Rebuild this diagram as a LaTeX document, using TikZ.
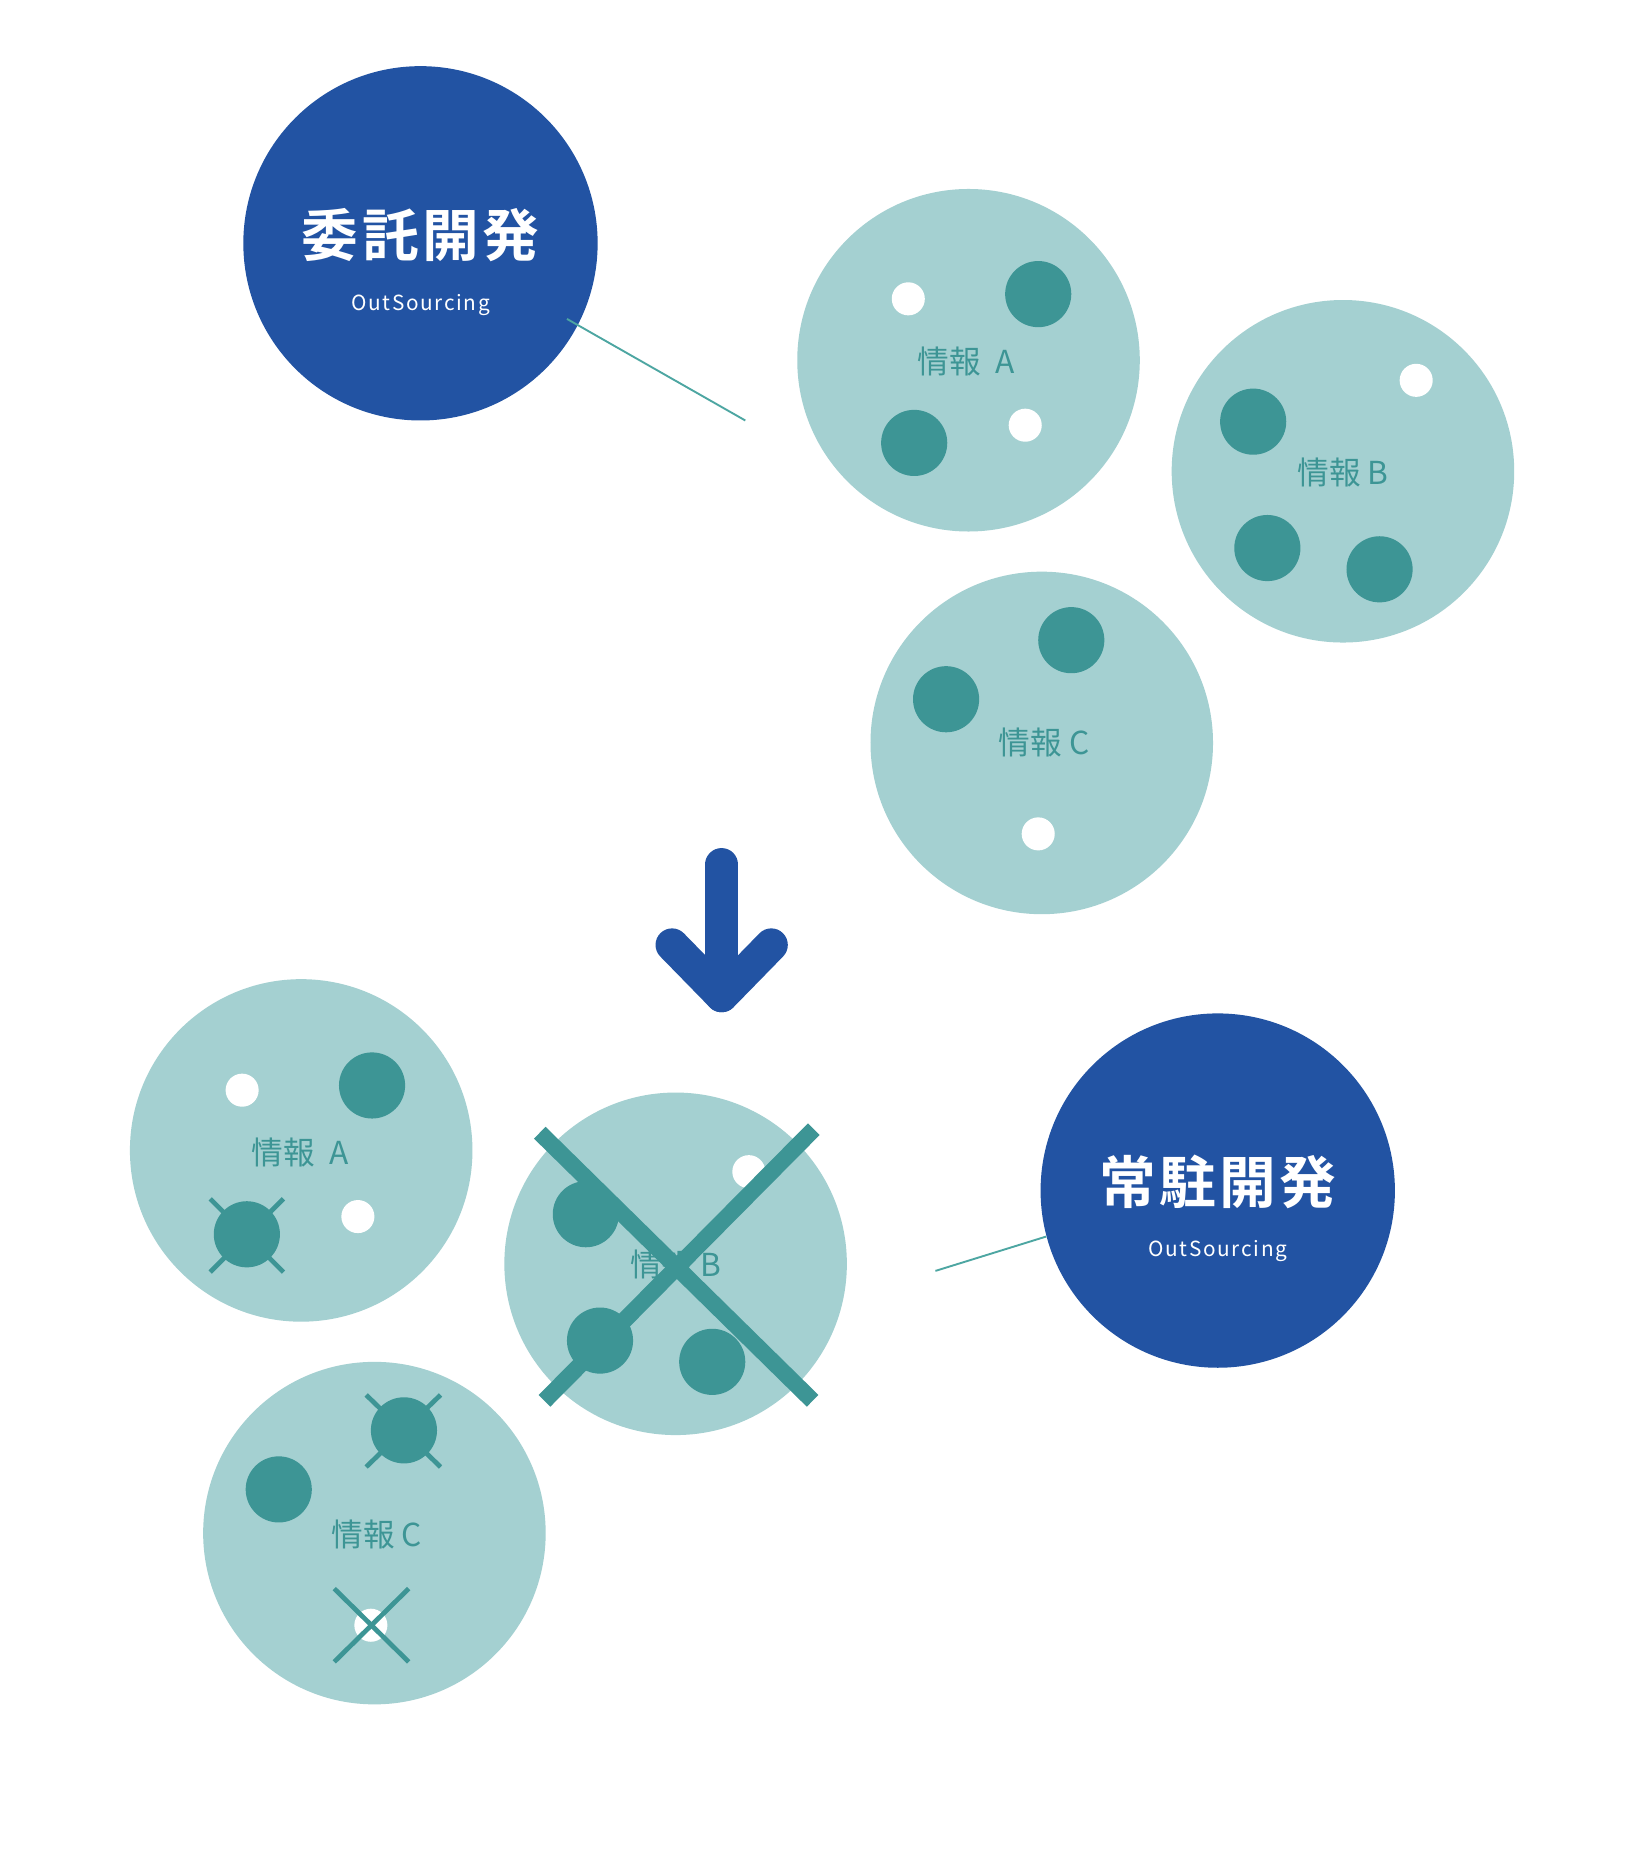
\documentclass[tikz,border=0pt]{standalone}
\usepackage{fontspec}
\newfontfamily\jp{Noto Sans CJK JP}[BoldFont={Noto Sans CJK JP Bold}]
\definecolor{dblue}{HTML}{2253A3}
\definecolor{lteal}{HTML}{A4D0D1}
\definecolor{dteal}{HTML}{3D9595}
\definecolor{lineteal}{HTML}{4DA6A2}
\begin{document}
\begin{tikzpicture}[x=0.5pt,y=-0.5pt,
  bigc/.style={circle,fill=dblue,minimum size=150pt,inner sep=0pt},
  infoc/.style={circle,fill=lteal,minimum size=145pt,inner sep=0pt},
  tdot/.style={circle,fill=dteal,minimum size=28pt,inner sep=0pt},
  wdot/.style={circle,fill=white,minimum size=14pt,inner sep=0pt},
  lbl/.style={text=dteal,inner sep=0pt,font=\jp\fontsize{13.4pt}{13.4pt}\selectfont},
  ttl/.style={text=white,inner sep=0pt,font=\jp\bfseries\fontsize{24pt}{24pt}\selectfont\addfontfeature{LetterSpace=6}},
  sub/.style={text=white,inner sep=0pt,anchor=base,font=\jp\fontsize{8.8pt}{8.8pt}\selectfont\addfontfeature{LetterSpace=8}},
  conn/.style={draw=lineteal,line width=0.8pt},
  bigx/.style={draw=dteal,line width=7pt},
  smallx/.style={draw=dteal,line width=2pt},
  arr/.style={draw=dblue,line width=14pt,line cap=round,line join=round}
]
\fill[white] (0,0) rectangle (1392,1568);
\useasboundingbox (0,0) rectangle (1392,1568);

% top: outsourcing
\node[bigc] (itaku) at (356,206) {};
\node[ttl] (itakuT) at (356,199) {委託開発};
\node[sub] (itakuS) at (356,263) {OutSourcing};
\coordinate (c1a) at (480,270);
\coordinate (c1b) at (631,356);
\draw[conn] (c1a) -- (c1b);

% top A
\node[infoc] (tA) at (820,305) {};
\node[wdot] (tA1) at (769,253) {};
\node[tdot] (tA2) at (879,249) {};
\node[tdot] (tA3) at (774,375) {};
\node[wdot] (tA4) at (868,360) {};
\node[lbl] (tAl) at (818,306) {情報\hspace{0.45em}A};

% top B
\node[infoc] (tB) at (1137,399) {};
\node[wdot] (tB1) at (1199,322) {};
\node[tdot] (tB2) at (1061,357) {};
\node[tdot] (tB3) at (1073,464) {};
\node[tdot] (tB4) at (1168,482) {};
\node[lbl] (tBl) at (1137,400) {情報 B};

% top C
\node[infoc] (tC) at (882,629) {};
\node[tdot] (tC1) at (907,542) {};
\node[tdot] (tC2) at (801,592) {};
\node[wdot] (tC3) at (879,706) {};
\node[lbl] (tCl) at (884,629) {情報 C};

% arrow
\coordinate (a1) at (611,732);
\coordinate (a2) at (611,843);
\coordinate (a3) at (569,800);
\coordinate (a4) at (653,800);
\draw[arr] (a1) -- (a2);
\draw[arr] (a3) -- (a2) -- (a4);

% bottom A
\node[infoc] (bA) at (255,974) {};
\node[wdot] (bA1) at (205,923) {};
\node[tdot] (bA2) at (315,919) {};
\draw[smallx] (178,1015) -- (240,1077);
\draw[smallx] (240,1015) -- (178,1077);
\node[tdot] (bA3) at (209,1045) {};
\node[wdot] (bA4) at (303,1030) {};
\node[lbl] (bAl) at (254,976) {情報\hspace{0.45em}A};

% bottom C
\node[infoc] (bC) at (317,1298) {};
\node[tdot] (bC1) at (236,1261) {};
\draw[smallx] (310,1181) -- (373,1242);
\draw[smallx] (373,1181) -- (310,1242);
\node[tdot] (bC2) at (342,1211) {};
\node[wdot] (bC3) at (314,1376) {};
\draw[smallx] (283,1345) -- (346,1407);
\draw[smallx] (346,1345) -- (283,1407);
\node[lbl] (bCl) at (319,1299) {情報 C};

% bottom B (crossed out)
\node[infoc] (bB) at (572,1070) {};
\node[wdot] (bB1) at (634,992) {};
\node[tdot] (bB2) at (496,1028) {};
\node[tdot] (bB3) at (508,1135) {};
\node[tdot] (bB4) at (603,1153) {};
\node[lbl] (bBl) at (572,1071) {情報 B};
\draw[bigx] (457,959) -- (688,1186);
\draw[bigx] (689,956) -- (461,1186);

% bottom: on-site development
\node[bigc] (joc) at (1031,1008) {};
\node[ttl] (jocT) at (1031,1001) {常駐開発};
\node[sub] (jocS) at (1031,1064) {OutSourcing};
\coordinate (c2a) at (792,1076);
\draw[conn] (c2a) -- (joc.195.5);
\end{tikzpicture}
\end{document}
